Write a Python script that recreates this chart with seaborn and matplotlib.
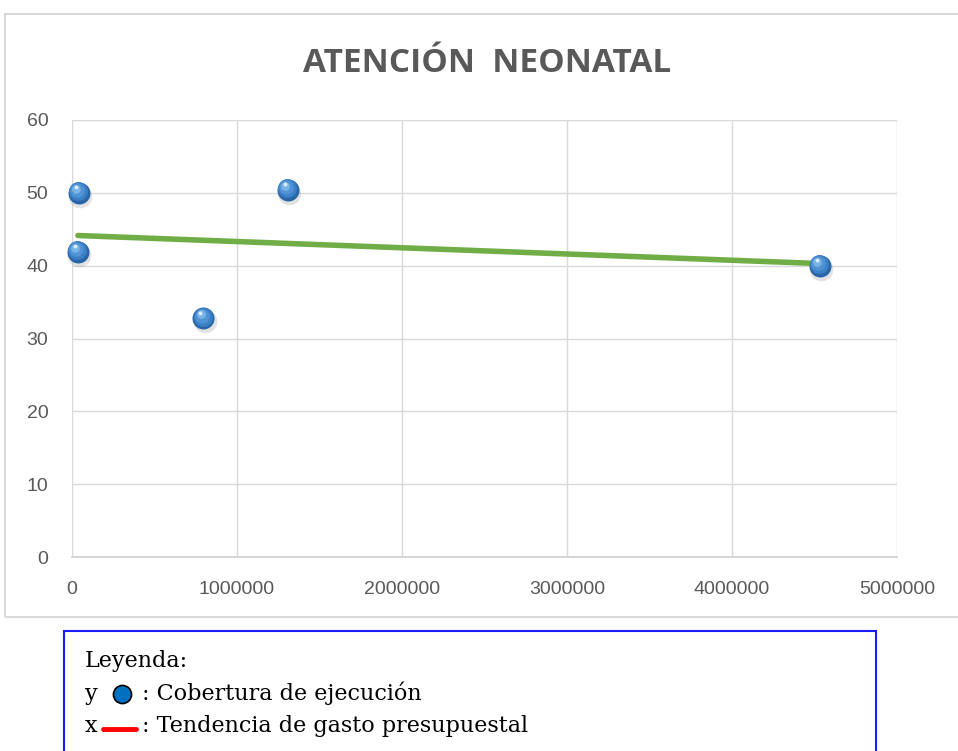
import matplotlib
matplotlib.use('Agg')
import pandas as pd
import seaborn as sns
import matplotlib.pyplot as plt
from matplotlib.patches import Rectangle
from matplotlib.transforms import ScaledTranslation

# Data
gasto = [42000, 36000, 794000, 1309000, 4533000]
cobertura = [50.0, 41.9, 32.8, 50.4, 40.0]
x_ticks = [0, 1000000, 2000000, 3000000, 4000000, 5000000]
y_ticks = [0, 10, 20, 30, 40, 50, 60]

df = pd.DataFrame({'gasto': gasto, 'cobertura': cobertura})

sns.set_theme(style='white')
plt.rcParams['font.family'] = ['Liberation Sans', 'DejaVu Sans']

fig = plt.figure(figsize=(9.58, 7.51), dpi=100)

# Chart frame and legend box (figure coordinates)
fig.patches.append(Rectangle((5 / 958, 1 - 617 / 751), 960 / 958, 603 / 751,
                             transform=fig.transFigure, fill=False,
                             edgecolor='#d9d9d9', linewidth=1.5))
fig.patches.append(Rectangle((64 / 958, -0.01), 812 / 958, 1 - 631 / 751 + 0.01,
                             transform=fig.transFigure, fill=False,
                             edgecolor='#1a1aff', linewidth=1.5))

ax = fig.add_axes([72 / 958, 1 - 557 / 751, 825 / 958, 437 / 751])

# Trend line (linear fit over data range)
sns.regplot(data=df, x='gasto', y='cobertura', scatter=False, ci=None,
            truncate=True, color='#70ad47', line_kws={'linewidth': 4, 'zorder': 3}, ax=ax)


def shifted(dx, dy):
    return ax.transData + ScaledTranslation(dx / 100, dy / 100, fig.dpi_scale_trans)


# Points drawn as shaded spheres: (size, colour, alpha, x shift px, y shift px)
layers = [(290, '#a0a0a0', 0.3, 1.5, -3),
          (250, '#2866a8', 1.0, 0, 0),
          (185, '#3b7fc4', 1.0, -0.5, 1.5),
          (110, '#4f93d4', 1.0, -1.5, 2.5),
          (40, '#79b3e6', 1.0, -2.5, 4),
          (8, '#d8ecff', 1.0, -3, 5.5)]
for i, (size, col, alpha, dx, dy) in enumerate(layers):
    sns.scatterplot(data=df, x='gasto', y='cobertura', s=size, color=col,
                    alpha=alpha, linewidth=0, ax=ax, zorder=4 + i)
    coll = ax.collections[-1]
    coll.set_offset_transform(shifted(dx, dy))
    coll.set_clip_on(False)

ax.set_xlim(0, 5000000)
ax.set_ylim(0, 60)
ax.set_xticks(x_ticks)
ax.set_xticklabels([str(v) for v in x_ticks])
ax.set_yticks(y_ticks)
ax.grid(True, color='#d9d9d9', linewidth=1)
ax.set_axisbelow(True)
ax.set_xlabel('')
ax.set_ylabel('')
for side in ['top', 'right', 'left']:
    ax.spines[side].set_visible(False)
ax.spines['bottom'].set_color('#d0d0d0')
ax.tick_params(axis='both', length=0, colors='#595959', labelsize=14)
ax.tick_params(axis='x', pad=17)
ax.tick_params(axis='y', pad=17)

fig.text(487 / 958, 1 - 63 / 751, 'ATENCIÓN  NEONATAL', ha='center', va='center',
         fontsize=24, fontweight='bold', color='#595959',
         family=['Open Sans', 'DejaVu Sans'])

# Legend text box
legend_font = {'family': ['DejaVu Serif'], 'size': 16, 'color': 'black'}
fig.text(85 / 958, 1 - 667 / 751, 'Leyenda:', va='baseline', **legend_font)
fig.text(85 / 958, 1 - 700 / 751, 'y', va='baseline', **legend_font)
fig.text(85 / 958, 1 - 732 / 751, 'x', va='baseline', **legend_font)
fig.text(142 / 958, 1 - 700 / 751, ': Cobertura de ejecución', va='baseline', **legend_font)
fig.text(142 / 958, 1 - 732 / 751, ': Tendencia de gasto presupuestal', va='baseline', **legend_font)
leg_ax = fig.add_axes([0, 0, 1, 1], zorder=10)
leg_ax.set_xlim(0, 958)
leg_ax.set_ylim(751, 0)
leg_ax.axis('off')
leg_ax.scatter([122.5], [694], s=170, color='#0070c0', edgecolor='black', linewidth=1.2)
leg_ax.plot([103, 136], [729, 729], color='#ff0000', linewidth=3.5)

fig.savefig('out.png', dpi=100)
